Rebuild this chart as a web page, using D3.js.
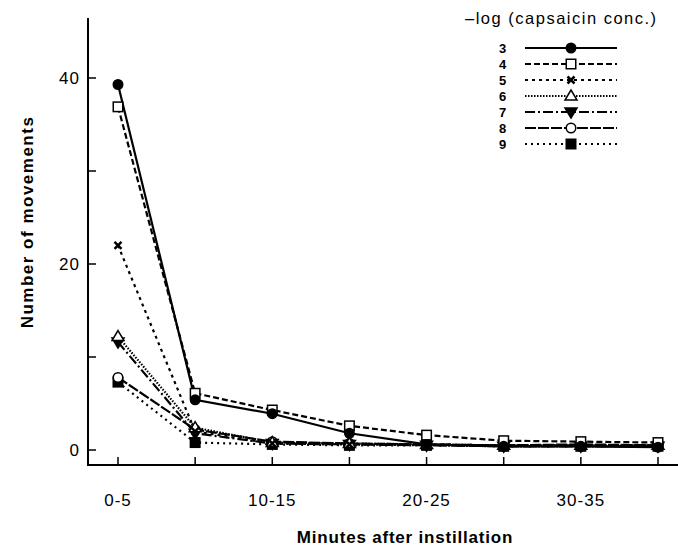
<!DOCTYPE html>
<html><head><meta charset="utf-8">
<script src="https://cdn.jsdelivr.net/npm/d3@7"></script>
<style>body{margin:0;background:#fff}svg{display:block}text{font-family:"Liberation Sans",Arial,sans-serif;fill:#000}</style>
</head><body>
<svg id="c" width="678" height="546"></svg>
<script>
const timePoints = [0,1,2,3,4,5,6,7];
const tickLabels = ["0-5","10-15","20-25","30-35"];
const tickLabelIdx = [0,2,4,6];
const yTicks = [0,10,20,30,40];
const yTickLabels = [0,20,40];
const concentrations = ["3","4","5","6","7","8","9"];
const s3 = [39.3,5.4,3.9,1.8,0.6,0.4,0.4,0.3];
const s4 = [36.9,6.1,4.3,2.6,1.6,1.0,0.9,0.8];
const s5 = [22.0,2.0,0.7,0.6,0.6,0.5,0.5,0.5];
const s6 = [12.2,2.4,0.8,0.7,0.6,0.5,0.5,0.5];
const s7 = [11.6,1.8,0.7,0.6,0.5,0.4,0.4,0.4];
const s8 = [7.8,2.2,0.9,0.7,0.6,0.5,0.6,0.5];
const s9 = [7.3,0.8,0.6,0.5,0.5,0.4,0.4,0.4];
const seriesValues = [s3,s4,s5,s6,s7,s8,s9];

const styles = [
  {dash:null, sym:"circle", fill:true},
  {dash:"6,3", sym:"square", fill:false},
  {dash:"3,4", sym:"cross", fill:true},
  {dash:"1.5,1.5", sym:"triangle", fill:false},
  {dash:"10,3,2,3", sym:"triangleDown", fill:true},
  {dash:"11,2", sym:"circle", fill:false},
  {dash:"2,4", sym:"square", fill:true}
];

const svg = d3.select("#c");
const x = d3.scaleLinear().domain([0,7]).range([118,658]);
const y = d3.scaleLinear().domain([0,40]).range([450,78]);
const axisLeftX = 88, baseY = 465, topY = 18;

svg.append("line").attr("x1",axisLeftX).attr("x2",axisLeftX).attr("y1",topY).attr("y2",baseY+1)
  .attr("stroke","#000").attr("stroke-width",2);
svg.append("line").attr("x1",axisLeftX-1).attr("x2",678).attr("y1",baseY).attr("y2",baseY)
  .attr("stroke","#000").attr("stroke-width",2);

svg.selectAll(".yt").data(yTicks).enter().append("line")
  .attr("x1",axisLeftX).attr("x2",axisLeftX+8).attr("y1",d=>y(d)).attr("y2",d=>y(d))
  .attr("stroke","#000").attr("stroke-width",1.5);
svg.selectAll(".yl").data(yTickLabels).enter().append("text")
  .attr("x",80).attr("y",d=>y(d)).attr("dy","0.36em").attr("text-anchor","end")
  .attr("font-size",17).attr("letter-spacing",1).text(d=>d);

svg.selectAll(".xt").data(timePoints).enter().append("line")
  .attr("x1",d=>x(d)).attr("x2",d=>x(d)).attr("y1",baseY).attr("y2",baseY-8)
  .attr("stroke","#000").attr("stroke-width",1.5);
svg.selectAll(".xl").data(tickLabelIdx).enter().append("text")
  .attr("x",d=>x(d)).attr("y",506).attr("text-anchor","middle")
  .attr("font-size",17).attr("letter-spacing",1).text((d,i)=>tickLabels[i]);

svg.append("text").attr("transform","translate(33,222) rotate(-90)").attr("text-anchor","middle")
  .attr("font-size",17).attr("font-weight","bold").attr("letter-spacing",1.5).text("Number of movements");
svg.append("text").attr("x",405).attr("y",543).attr("text-anchor","middle")
  .attr("font-size",17).attr("font-weight","bold").attr("letter-spacing",0.8).text("Minutes after instillation");

function drawSymbol(g, st, cx, cy){
  const s = 9.5;
  if(st.sym==="circle"){
    g.append("circle").attr("cx",cx).attr("cy",cy).attr("r",s/2)
      .attr("fill",st.fill?"#000":"#fff").attr("stroke","#000").attr("stroke-width",1.5);
  } else if(st.sym==="square"){
    g.append("rect").attr("x",cx-s/2).attr("y",cy-s/2).attr("width",s).attr("height",s)
      .attr("fill",st.fill?"#000":"#fff").attr("stroke","#000").attr("stroke-width",1.5);
  } else if(st.sym==="cross"){
    g.append("path").attr("d",`M${cx-3.5},${cy-3.5}L${cx+3.5},${cy+3.5}M${cx-3.5},${cy+3.5}L${cx+3.5},${cy-3.5}`)
      .attr("stroke","#000").attr("stroke-width",2.5).attr("fill","none");
  } else if(st.sym==="triangle"){
    g.append("path").attr("d",`M${cx},${cy-6}L${cx+6},${cy+4}L${cx-6},${cy+4}Z`)
      .attr("fill","#fff").attr("stroke","#000").attr("stroke-width",1.5);
  } else if(st.sym==="triangleDown"){
    g.append("path").attr("d",`M${cx},${cy+6}L${cx+6},${cy-4}L${cx-6},${cy-4}Z`)
      .attr("fill","#000").attr("stroke","#000").attr("stroke-width",1.5);
  }
}

const line = d3.line().x((d,i)=>x(timePoints[i])).y(d=>y(d));
seriesValues.forEach((vals,k)=>{
  const st = styles[k];
  svg.append("path").attr("d",line(vals)).attr("fill","none").attr("stroke","#000")
    .attr("stroke-width",2.2).attr("stroke-dasharray",st.dash);
});
seriesValues.slice().reverse().forEach((vals,kr)=>{
  const k = seriesValues.length-1-kr;
  const g = svg.append("g");
  vals.forEach((v,i)=>drawSymbol(g, styles[k], x(timePoints[i]), y(v)));
});

svg.append("text").attr("x",465).attr("y",24).attr("font-size",16.5).attr("letter-spacing",1.5)
  .text("\u2013log (capsaicin conc.)");
const ly = d3.scaleLinear().domain([0,6]).range([48,144]);
concentrations.forEach((c,k)=>{
  const st = styles[k];
  const yy = ly(k);
  svg.append("text").attr("x",499).attr("y",yy).attr("dy","0.36em").attr("font-size",13)
    .attr("font-weight","bold").text(c);
  svg.append("line").attr("x1",525).attr("x2",617).attr("y1",yy).attr("y2",yy)
    .attr("stroke","#000").attr("stroke-width",2).attr("stroke-dasharray",st.dash);
  const g = svg.append("g");
  drawSymbol(g, st, 571, yy);
});
</script>
</body></html>
